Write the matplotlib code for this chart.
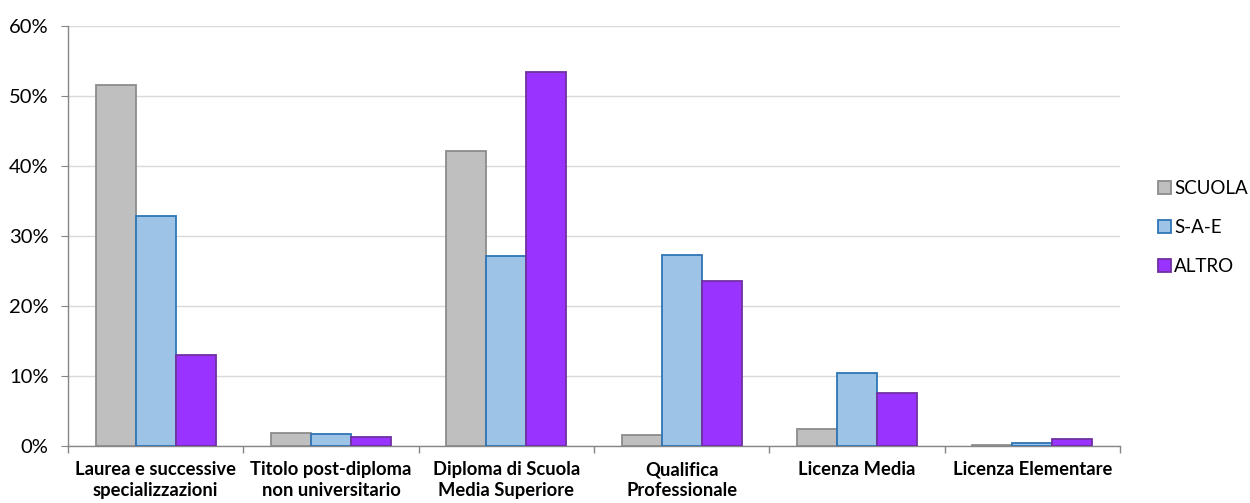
import numpy as np
import matplotlib.pyplot as plt
from matplotlib.ticker import FixedLocator, PercentFormatter

plt.rcParams['font.family'] = ['Lato', 'DejaVu Sans']

categories = ['Laurea e successive\nspecializzazioni',
              'Titolo post-diploma\nnon universitario',
              'Diploma di Scuola\nMedia Superiore',
              'Qualifica\nProfessionale',
              'Licenza Media',
              'Licenza Elementare']
series_names = ['SCUOLA', 'S-A-E', 'ALTRO']
scuola = [51.6, 1.9, 42.1, 1.6, 2.4, 0.2]
sae = [32.8, 1.7, 27.1, 27.3, 10.4, 0.5]
altro = [13.0, 1.3, 53.4, 23.6, 7.6, 1.0]

fills = ['#BFBFBF', '#9DC3E6', '#9933FF']
edges = ['#8C8C8C', '#2E75B6', '#7030A0']

fig = plt.figure(figsize=(12.5, 5.03), dpi=100)
ax = fig.add_axes([68 / 1250, 57 / 503, 1052 / 1250, 420 / 503])

x = np.arange(len(categories))
w = 0.228
for k, (vals, name) in enumerate(zip([scuola, sae, altro], series_names)):
    ax.bar(x + (k - 1) * w, vals, width=w, color=fills[k], edgecolor=edges[k],
           linewidth=1.3, label=name, zorder=3)

ax.set_xlim(-0.5, len(categories) - 0.5)
ax.set_ylim(0, 60)
ax.set_yticks(np.arange(0, 61, 10))
ax.yaxis.set_major_formatter(PercentFormatter(decimals=0))
ax.grid(axis='y', color='#D9D9D9', linewidth=1.0, zorder=0)

ax.set_xticks(x)
ax.set_xticklabels(categories, fontweight='bold', fontsize=13.2, linespacing=1.3)
ax.xaxis.set_minor_locator(FixedLocator(np.arange(-0.5, len(categories), 1.0)))
ax.tick_params(axis='x', which='major', length=0, pad=11)
ax.tick_params(axis='x', which='minor', length=5, color='#868686', width=1)
ax.tick_params(axis='y', length=5, color='#868686', labelsize=14.5, pad=9)

for s in ['top', 'right']:
    ax.spines[s].set_visible(False)
for s in ['left', 'bottom']:
    ax.spines[s].set_color('#868686')
    ax.spines[s].set_linewidth(1.0)

ax.legend(loc='center left', bbox_to_anchor=(1.036, 0.52), frameon=False,
          fontsize=13.5, handlelength=0.68, handleheight=0.68, handletextpad=0.2,
          labelspacing=1.17, borderaxespad=0, borderpad=0)

fig.savefig('out.png', dpi=100)
